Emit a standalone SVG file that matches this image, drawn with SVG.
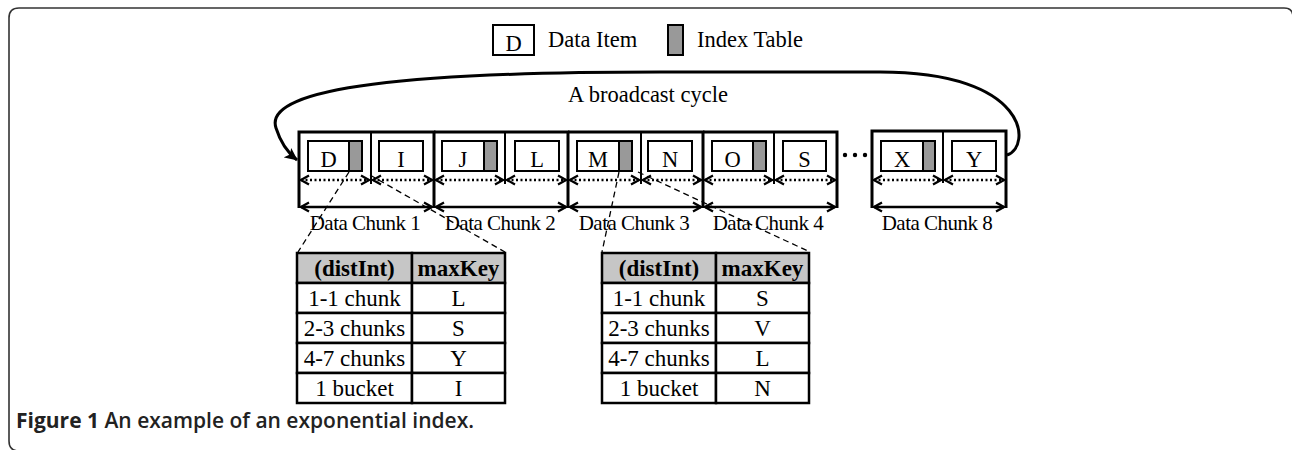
<svg xmlns="http://www.w3.org/2000/svg" width="1292" height="450" viewBox="0 0 1292 450">
<style>
.t{font-family:"Liberation Serif","Times New Roman",serif;font-size:22.5px;fill:#000}
.tb{font-size:23px}
.c{text-anchor:middle}
.lbl{font-family:"Liberation Serif","Times New Roman",serif;font-size:21px;text-anchor:middle;letter-spacing:-0.5px}
.b{font-weight:bold}
.box{fill:#fff;stroke:#000;stroke-width:2}
.idx{fill:#999;stroke:#000;stroke-width:2}
.ln{fill:none;stroke:#000;stroke-width:2}
.bd{fill:none;stroke:#000;stroke-width:3}
.dot{fill:none;stroke:#000;stroke-width:2.5;stroke-dasharray:2 2.5;marker-start:url(#ch);marker-end:url(#ch)}
.sol{fill:none;stroke:#000;stroke-width:2.5;marker-start:url(#ch);marker-end:url(#ch)}
.dash{fill:none;stroke:#000;stroke-width:1.3;stroke-dasharray:6 4}
.hd{fill:#c6c6c6;stroke:#000;stroke-width:2.5}
.cell{fill:#fff;stroke:#000;stroke-width:2.5}
.cap{font-family:"Open Sans","Noto Sans",sans-serif;font-size:21px;fill:#222}
</style>
<defs>
<marker id="ch" viewBox="-11 -7 13 14" refX="0" refY="0" markerWidth="13" markerHeight="14" markerUnits="userSpaceOnUse" orient="auto-start-reverse">
<path d="M -8,-4.5 L 0,0 L -8,4.5" fill="none" stroke="#000" stroke-width="2.2"/>
</marker>
<marker id="ah" viewBox="0 -7 14 14" refX="12" refY="0" markerWidth="14" markerHeight="14" markerUnits="userSpaceOnUse" orient="auto">
<path d="M 0,-6 L 13,0 L 0,6 L 3,0 Z" fill="#000"/>
</marker>
</defs>
<path d="M 19,451 Q 9,451 9,441 L 9,18 Q 9,8 19,8 L 1284,8 Q 1293,8 1293,17 L 1293,30" fill="none" stroke="#333" stroke-width="1.6"/>

<g id="legend">
<rect class="box" x="493" y="25" width="41" height="30"/>
<text class="t c" x="513.5" y="51">D</text>
<text class="t" x="548" y="47">Data Item</text>
<rect class="idx" x="668" y="25" width="15" height="30"/>
<text class="t" x="697" y="47">Index Table</text>
</g>

<g id="cycle">
<path d="M 1007,155 C 1032,147 1030,72 880,72 L 660,72 C 420,72 262,86 276,128 C 281,144 288,153 297,160" fill="none" stroke="#000" stroke-width="3" marker-end="url(#ah)"/>
<text class="t c" x="648" y="102">A broadcast cycle</text>
</g>

<g id="chunk1">
<path class="bd" d="M 299,208 L 299,132 L 434,132 L 434,208"/>
<path class="ln" d="M 371,132 L 371,184"/>
<rect class="box" x="308" y="141" width="41" height="30"/><rect class="idx" x="349" y="141" width="13" height="30"/>
<text class="t c" x="328.5" y="167">D</text>
<rect class="box" x="379" y="141" width="44" height="30"/>
<text class="t c" x="401" y="167">I</text>
<path class="dot" d="M 301,180 L 369,180"/><path class="dot" d="M 373,180 L 432,180"/>
<path class="sol" d="M 301,207 L 432,207"/>
<text class="lbl" x="365" y="230">Data Chunk 1</text>
</g>

<g id="chunk2">
<path class="bd" d="M 434,132 L 568,132 L 568,208"/>
<path class="ln" d="M 505,132 L 505,184"/>
<rect class="box" x="442" y="141" width="42" height="30"/><rect class="idx" x="484" y="141" width="13" height="30"/>
<text class="t c" x="463" y="167">J</text>
<rect class="box" x="515" y="141" width="44" height="30"/>
<text class="t c" x="537" y="167">L</text>
<path class="dot" d="M 436,180 L 503,180"/><path class="dot" d="M 507,180 L 566,180"/>
<path class="sol" d="M 436,207 L 566,207"/>
<text class="lbl" x="500" y="230">Data Chunk 2</text>
</g>

<g id="chunk3">
<path class="bd" d="M 568,132 L 703,132 L 703,208"/>
<path class="ln" d="M 641,132 L 641,184"/>
<rect class="box" x="577" y="141" width="42" height="30"/><rect class="idx" x="619" y="141" width="13" height="30"/>
<text class="t c" x="598" y="167">M</text>
<rect class="box" x="648" y="141" width="44" height="30"/>
<text class="t c" x="670" y="167">N</text>
<path class="dot" d="M 570,180 L 639,180"/><path class="dot" d="M 643,180 L 701,180"/>
<path class="sol" d="M 570,207 L 701,207"/>
<text class="lbl" x="634" y="230">Data Chunk 3</text>
</g>

<g id="chunk4">
<path class="bd" d="M 703,132 L 837,132 L 837,208"/>
<path class="ln" d="M 774,132 L 774,184"/>
<rect class="box" x="712" y="141" width="41" height="30"/><rect class="idx" x="753" y="141" width="13" height="30"/>
<text class="t c" x="732.5" y="167">O</text>
<rect class="box" x="783" y="141" width="43" height="30"/>
<text class="t c" x="804.5" y="167">S</text>
<path class="dot" d="M 705,180 L 772,180"/><path class="dot" d="M 776,180 L 835,180"/>
<path class="sol" d="M 705,207 L 835,207"/>
<text class="lbl" x="768" y="230">Data Chunk 4</text>
</g>

<g id="ellipsis">
<circle cx="845" cy="155" r="2.2"/><circle cx="855" cy="155" r="2.2"/><circle cx="865" cy="155" r="2.2"/>
</g>

<g id="chunk8">
<path class="bd" d="M 872,208 L 872,131 L 1006,131 L 1006,208"/>
<path class="ln" d="M 943,131 L 943,183"/>
<rect class="box" x="881" y="141" width="42" height="30"/><rect class="idx" x="923" y="141" width="12" height="30"/>
<text class="t c" x="902" y="167">X</text>
<rect class="box" x="952" y="141" width="44" height="30"/>
<text class="t c" x="974" y="167">Y</text>
<path class="dot" d="M 874,180 L 941,180"/><path class="dot" d="M 945,180 L 1004,180"/>
<path class="sol" d="M 874,207 L 1004,207"/>
<text class="lbl" x="937" y="230">Data Chunk 8</text>
</g>

<g id="connectors">
<path class="dash" d="M 349,172 L 298,252"/>
<path class="dash" d="M 370,175 L 505,252"/>
<path class="dash" d="M 619,172 L 602,252"/>
<path class="dash" d="M 638,172 L 810,252"/>
</g>

<g id="table1">
<rect class="hd" x="297" y="253" width="115" height="30"/><rect class="hd" x="412" y="253" width="93" height="30"/>
<rect class="cell" x="297" y="283" width="115" height="30"/><rect class="cell" x="412" y="283" width="93" height="30"/>
<rect class="cell" x="297" y="313" width="115" height="30"/><rect class="cell" x="412" y="313" width="93" height="30"/>
<rect class="cell" x="297" y="343" width="115" height="30"/><rect class="cell" x="412" y="343" width="93" height="30"/>
<rect class="cell" x="297" y="373" width="115" height="30"/><rect class="cell" x="412" y="373" width="93" height="30"/>
<text class="t tb c b" x="354.5" y="276">(distInt)</text><text class="t tb c b" x="458.5" y="276">maxKey</text>
<text class="t tb c" x="354.5" y="306">1-1 chunk</text><text class="t tb c" x="458.5" y="306">L</text>
<text class="t tb c" x="354.5" y="336">2-3 chunks</text><text class="t tb c" x="458.5" y="336">S</text>
<text class="t tb c" x="354.5" y="366">4-7 chunks</text><text class="t tb c" x="458.5" y="366">Y</text>
<text class="t tb c" x="354.5" y="396">1 bucket</text><text class="t tb c" x="458.5" y="396">I</text>
</g>

<g id="table2">
<rect class="hd" x="602" y="253" width="114" height="30"/><rect class="hd" x="716" y="253" width="93" height="30"/>
<rect class="cell" x="602" y="283" width="114" height="30"/><rect class="cell" x="716" y="283" width="93" height="30"/>
<rect class="cell" x="602" y="313" width="114" height="30"/><rect class="cell" x="716" y="313" width="93" height="30"/>
<rect class="cell" x="602" y="343" width="114" height="30"/><rect class="cell" x="716" y="343" width="93" height="30"/>
<rect class="cell" x="602" y="373" width="114" height="30"/><rect class="cell" x="716" y="373" width="93" height="30"/>
<text class="t tb c b" x="659" y="276">(distInt)</text><text class="t tb c b" x="762.5" y="276">maxKey</text>
<text class="t tb c" x="659" y="306">1-1 chunk</text><text class="t tb c" x="762.5" y="306">S</text>
<text class="t tb c" x="659" y="336">2-3 chunks</text><text class="t tb c" x="762.5" y="336">V</text>
<text class="t tb c" x="659" y="366">4-7 chunks</text><text class="t tb c" x="762.5" y="366">L</text>
<text class="t tb c" x="659" y="396">1 bucket</text><text class="t tb c" x="762.5" y="396">N</text>
</g>

<text class="cap" x="16" y="428"><tspan font-weight="700">Figure 1</tspan><tspan font-weight="600"> An example of an exponential index.</tspan></text>
</svg>
